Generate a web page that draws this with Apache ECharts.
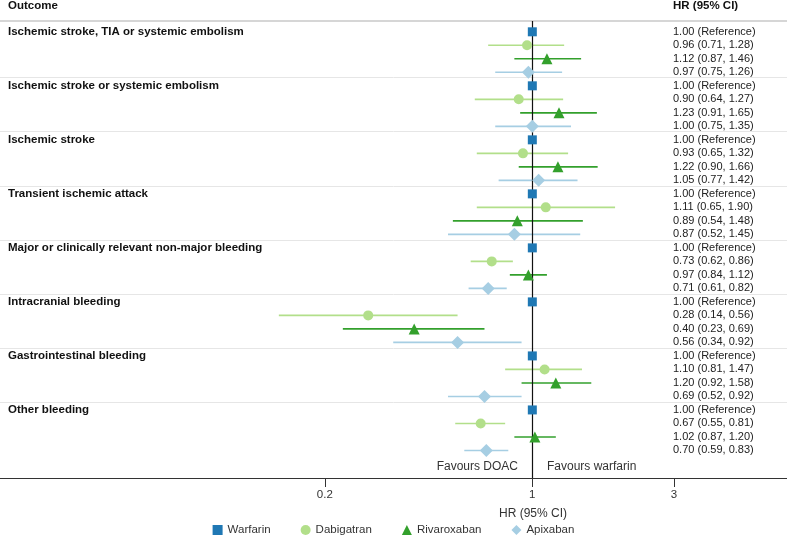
<!DOCTYPE html>
<html>
<head>
<meta charset="utf-8">
<script src="https://cdn.jsdelivr.net/npm/echarts@6/dist/echarts.min.js"></script>
<style>
  html, body { margin: 0; padding: 0; background: #fff; }
  #chart { width: 787px; height: 549px; }
</style>
</head>
<body>
<div id="chart"></div>
<script>
// 数据
const outcomes = [
  'Ischemic stroke, TIA or systemic embolism',
  'Ischemic stroke or systemic embolism',
  'Ischemic stroke',
  'Transient ischemic attack',
  'Major or clinically relevant non-major bleeding',
  'Intracranial bleeding',
  'Gastrointestinal bleeding',
  'Other bleeding'
];
const drugs = ['Warfarin', 'Dabigatran', 'Rivaroxaban', 'Apixaban'];
const colors = ['#1f78b4', '#b2df8a', '#33a02c', '#a6cee3'];
const symbols = ['rect', 'circle', 'triangle', 'diamond'];

const warfarinHR = [1.00, 1.00, 1.00, 1.00, 1.00, 1.00, 1.00, 1.00];
const dabigatranHR = [0.96, 0.90, 0.93, 1.11, 0.73, 0.28, 1.10, 0.67];
const dabigatranLo = [0.71, 0.64, 0.65, 0.65, 0.62, 0.14, 0.81, 0.55];
const dabigatranHi = [1.28, 1.27, 1.32, 1.90, 0.86, 0.56, 1.47, 0.81];
const rivaroxabanHR = [1.12, 1.23, 1.22, 0.89, 0.97, 0.40, 1.20, 1.02];
const rivaroxabanLo = [0.87, 0.91, 0.90, 0.54, 0.84, 0.23, 0.92, 0.87];
const rivaroxabanHi = [1.46, 1.65, 1.66, 1.48, 1.12, 0.69, 1.58, 1.20];
const apixabanHR = [0.97, 1.00, 1.05, 0.87, 0.71, 0.56, 0.69, 0.70];
const apixabanLo = [0.75, 0.75, 0.77, 0.52, 0.61, 0.34, 0.52, 0.59];
const apixabanHi = [1.26, 1.35, 1.42, 1.45, 0.82, 0.92, 0.92, 0.83];

const xTicks = [0.2, 1, 3];

const narrow = '"Liberation Sans Narrow", "Arial Narrow", "Liberation Sans", Arial, sans-serif';
const sans = '"Liberation Sans", Arial, sans-serif';

const hrList = [warfarinHR, dabigatranHR, rivaroxabanHR, apixabanHR];
const loList = [null, dabigatranLo, rivaroxabanLo, apixabanLo];
const hiList = [null, dabigatranHi, rivaroxabanHi, apixabanHi];
const sizes = [9, 10, 11, 13];

// 每个结局4行
function rowIndex(g, d) { return g * 4 + d; }

const series = [];
const textRows = [];
drugs.forEach((name, d) => {
  const pts = [];
  const ci = [];
  outcomes.forEach((o, g) => {
    const y = rowIndex(g, d);
    pts.push([hrList[d][g], y]);
    if (loList[d]) {
      ci.push([y, loList[d][g], hiList[d][g]]);
      textRows.push([y, hrList[d][g].toFixed(2) + ' (' + loList[d][g].toFixed(2) + ', ' + hiList[d][g].toFixed(2) + ')']);
    } else {
      textRows.push([y, hrList[d][g].toFixed(2) + ' (Reference)']);
    }
  });
  if (ci.length) {
    series.push({
      name: name,
      type: 'custom',
      encode: { x: [1, 2], y: 0 },
      data: ci,
      z: 3,
      renderItem: function (params, api) {
        const p1 = api.coord([api.value(1), api.value(0)]);
        const p2 = api.coord([api.value(2), api.value(0)]);
        return {
          type: 'line',
          shape: { x1: p1[0], y1: p1[1], x2: p2[0], y2: p2[1] },
          style: { stroke: colors[d], lineWidth: 1.6 }
        };
      }
    });
  }
  series.push({
    name: name,
    type: 'scatter',
    symbol: symbols[d],
    symbolSize: sizes[d],
    itemStyle: { color: colors[d], opacity: 1 },
    data: pts,
    z: 5
  });
});

// 左侧结局标题
series.push({
  type: 'custom',
  silent: true,
  encode: { y: 0 },
  data: outcomes.map((o, g) => [rowIndex(g, 0), o]),
  renderItem: function (params, api) {
    const p = api.coord([1, api.value(0)]);
    return {
      type: 'text',
      x: 8, y: p[1],
      style: { text: outcomes[params.dataIndex], fontFamily: sans, fontWeight: 'bold', fontSize: 11.5, fill: '#111', verticalAlign: 'middle' }
    };
  }
});
// 右侧HR文本
series.push({
  type: 'custom',
  silent: true,
  encode: { y: 0 },
  data: textRows.map(r => [r[0]]),
  renderItem: function (params, api) {
    const p = api.coord([1, api.value(0)]);
    return {
      type: 'text',
      x: 673, y: p[1],
      style: { text: textRows[params.dataIndex][1], fontFamily: sans, fontSize: 11, fill: '#222', verticalAlign: 'middle' }
    };
  }
});
// 分隔线与参考线
series.push({
  type: 'scatter',
  silent: true,
  data: [],
  markLine: {
    silent: true,
    symbol: 'none',
    label: { show: false },
    animation: false,
    data: [
      { yAxis: -0.8, lineStyle: { color: '#c8c8c8', width: 1.5, type: 'solid' } },
      ...[1, 2, 3, 4, 5, 6, 7].map(g => ({ yAxis: g * 4 - 0.6, lineStyle: { color: '#e6e6e6', width: 1, type: 'solid' } })),
      { xAxis: 1, lineStyle: { color: '#111', width: 1.2, type: 'solid' } }
    ]
  }
});

const chart = echarts.init(document.getElementById('chart'));
chart.setOption({
  animation: false,
  grid: { left: 0, right: 0, top: 21, bottom: 71 },
  xAxis: {
    type: 'log',
    logBase: 10,
    min: 0.0161,
    max: 7.21,
    position: 'bottom',
    axisLine: { show: true, onZero: false, lineStyle: { color: '#333', width: 1.2 } },
    axisTick: { show: true, length: 9, customValues: xTicks, lineStyle: { color: '#333' } },
    axisLabel: { customValues: xTicks, fontFamily: narrow, fontSize: 11.5, color: '#333', margin: 11, formatter: v => String(+(+v).toPrecision(3)) },
    splitLine: { show: false },
    minorTick: { show: false }
  },
  yAxis: {
    type: 'value',
    inverse: true,
    min: -0.8,
    max: 33.04,
    show: false
  },
  legend: {
    bottom: 8,
    left: 'center',
    itemWidth: 10,
    itemHeight: 10,
    itemGap: 30,
    textStyle: { fontFamily: narrow, fontSize: 11.5, color: '#333' },
    data: drugs.map((n, i) => ({ name: n, icon: symbols[i], itemStyle: { color: colors[i] } }))
  },
  graphic: [
    { type: 'text', left: 8, top: 0, style: { text: 'Outcome', fontFamily: sans, fontWeight: 'bold', fontSize: 11.5, fill: '#111' } },
    { type: 'text', left: 673, top: 0, style: { text: 'HR (95% CI)', fontFamily: sans, fontWeight: 'bold', fontSize: 11.5, fill: '#111' } },
    { type: 'text', x: 518, y: 467, style: { text: 'Favours DOAC', fontFamily: narrow, fontSize: 12, fill: '#333', align: 'right', verticalAlign: 'middle' } },
    { type: 'text', x: 547, y: 467, style: { text: 'Favours warfarin', fontFamily: narrow, fontSize: 12, fill: '#333', align: 'left', verticalAlign: 'middle' } },
    { type: 'text', x: 533, y: 514, style: { text: 'HR (95% CI)', fontFamily: narrow, fontSize: 12, fill: '#333', align: 'center', verticalAlign: 'middle' } }
  ],
  series: series
});
</script>
</body>
</html>
